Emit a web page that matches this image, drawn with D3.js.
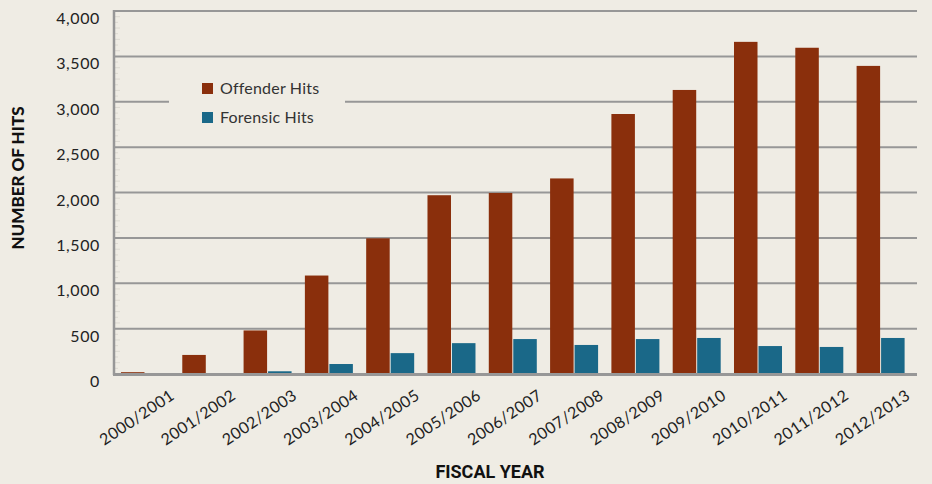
<!DOCTYPE html>
<html>
<head>
<meta charset="utf-8">
<script src="https://cdn.jsdelivr.net/npm/d3@7"></script>
<style>
  body { margin: 0; background: #efece4; }
  svg { display: block; }
  .tick-label { font-family: Lato, "Open Sans", sans-serif; fill: #222; }
</style>
</head>
<body>
<div id="chart"></div>
<script>
// Data
var years = ["2000/2001", "2001/2002", "2002/2003", "2003/2004", "2004/2005", "2005/2006", "2006/2007",
             "2007/2008", "2008/2009", "2009/2010", "2010/2011", "2011/2012", "2012/2013"];
var offenderHits = [20, 210, 480, 1085, 1495, 1970, 1995, 2155, 2865, 3130, 3660, 3595, 3395];
var forensicHits = [0, 0, 30, 110, 230, 340, 385, 320, 385, 397, 308, 298, 397];
var seriesNames = ["Offender Hits", "Forensic Hits"];
var yTicks = [0, 500, 1000, 1500, 2000, 2500, 3000, 3500, 4000];

var colors = d3.scaleOrdinal().domain(seriesNames).range(["#8a2f0c", "#1a6888"]);
var commaFormat = d3.format(",");

var W = 932, H = 484;
var plot = {left: 114, right: 917, top: 11, bottom: 374};

var svg = d3.select("#chart").append("svg")
  .attr("width", W)
  .attr("height", H);

svg.append("rect").attr("width", W).attr("height", H).attr("fill", "#efece4");

var x = d3.scaleBand()
  .domain(years)
  .range([plot.left, plot.right])
  .paddingInner(0.217)
  .paddingOuter(0.158)
  .align(0.36);

var x1 = d3.scaleBand()
  .domain(seriesNames)
  .range([0, x.bandwidth()])
  .paddingInner(0.04);

var y = d3.scaleLinear().domain([0, 4000]).range([plot.bottom, plot.top]);

// gridlines
svg.append("g").selectAll("line")
  .data(yTicks.filter(function(d) { return d > 0; }))
  .enter().append("line")
    .attr("x1", plot.left)
    .attr("x2", plot.right)
    .attr("y1", function(d) { return y(d); })
    .attr("y2", function(d) { return y(d); })
    .attr("stroke", "#979797")
    .attr("stroke-width", 2);

// faint minor ticks on the y axis
var minor = d3.range(0, 4000, 62.5).filter(function(d) { return d % 500 !== 0; });
svg.append("g").selectAll("line")
  .data(minor)
  .enter().append("line")
    .attr("x1", plot.left + 1)
    .attr("x2", function(d, i) { return plot.left + (i % 2 ? 6 : 4); })
    .attr("y1", function(d) { return y(d); })
    .attr("y2", function(d) { return y(d); })
    .attr("stroke", "#dcd9d1")
    .attr("stroke-width", 1);

// y labels
svg.append("g").selectAll("text")
  .data(yTicks)
  .enter().append("text")
    .attr("class", "tick-label")
    .attr("x", 100)
    .attr("y", function(d) { return y(d) + 13; })
    .attr("text-anchor", "end")
    .style("font-size", "16px")
    .style("letter-spacing", "0.6px")
    .text(function(d) { return commaFormat(d); });

// bars
var groups = svg.append("g").selectAll("g")
  .data(years)
  .enter().append("g")
    .attr("transform", function(d) { return "translate(" + x(d) + ",0)"; });

groups.selectAll("rect")
  .data(function(d, i) {
    return [{key: seriesNames[0], value: offenderHits[i]}, {key: seriesNames[1], value: forensicHits[i]}];
  })
  .enter().append("rect")
    .attr("x", function(d) { return x1(d.key); })
    .attr("width", x1.bandwidth())
    .attr("y", function(d) { return y(d.value); })
    .attr("height", function(d) { return y(0) - y(d.value); })
    .attr("fill", function(d) { return colors(d.key); });

// axes lines
svg.append("line")
  .attr("x1", plot.left).attr("x2", plot.left)
  .attr("y1", plot.top - 1).attr("y2", plot.bottom + 1)
  .attr("stroke", "#979797").attr("stroke-width", 2.5);
svg.append("line")
  .attr("x1", plot.left - 1).attr("x2", plot.right)
  .attr("y1", plot.bottom + 0.5).attr("y2", plot.bottom + 0.5)
  .attr("stroke", "#979797").attr("stroke-width", 3);

// x labels
svg.append("g").selectAll("text")
  .data(years)
  .enter().append("text")
    .attr("class", "tick-label")
    .attr("text-anchor", "middle")
    .attr("transform", function(d) {
      return "translate(" + (x(d) + x.bandwidth() / 2 - 5) + "," + 422 + ") rotate(-34)";
    })
    .style("font-size", "16px")
    .style("letter-spacing", "0.5px")
    .text(function(d) { return d; });

// legend
var legend = svg.append("g");
legend.append("rect")
  .attr("x", 169).attr("y", 70).attr("width", 176).attr("height", 62)
  .attr("fill", "#efece4");
var li = legend.selectAll("g")
  .data(seriesNames)
  .enter().append("g")
    .attr("transform", function(d, i) { return "translate(202," + (83 + i * 29) + ")"; });
li.append("rect").attr("width", 11).attr("height", 11).attr("fill", function(d) { return colors(d); });
li.append("text")
  .attr("class", "tick-label")
  .attr("x", 18).attr("y", 11)
  .style("font-size", "16px")
  .style("letter-spacing", "0.2px")
  .style("fill", "#333")
  .text(function(d) { return d; });

// axis titles
svg.append("text")
  .attr("transform", "translate(24,178) rotate(-90)")
  .attr("text-anchor", "middle")
  .style("font-family", "Lato, sans-serif")
  .style("font-weight", "900")
  .style("font-size", "17px")
  .style("fill", "#111")
  .text("NUMBER OF HITS");

svg.append("text")
  .attr("x", 490).attr("y", 478)
  .attr("text-anchor", "middle")
  .style("font-family", "Roboto, sans-serif")
  .style("font-weight", "bold")
  .style("font-size", "18px")
  .style("fill", "#111")
  .text("FISCAL YEAR");
</script>
</body>
</html>
